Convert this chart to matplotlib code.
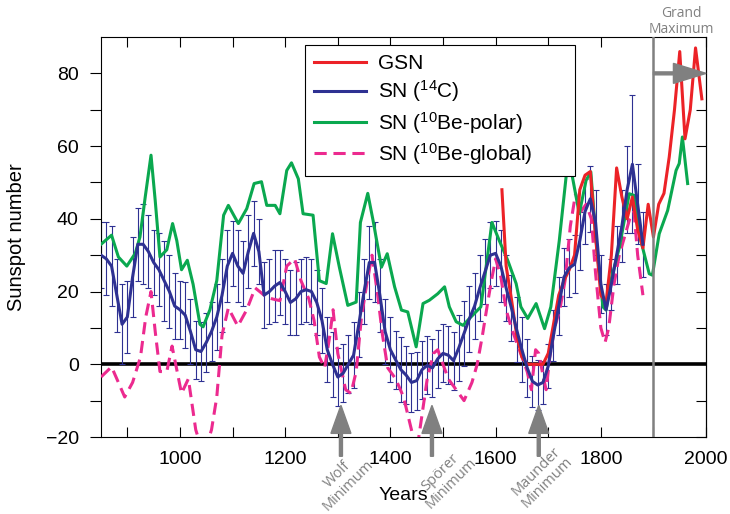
import numpy as np
import matplotlib.pyplot as plt
import matplotlib.transforms as mtransforms

plt.rcParams['font.family'] = ['Liberation Sans', 'DejaVu Sans']
plt.rcParams['mathtext.fontset'] = 'custom'
plt.rcParams['mathtext.rm'] = 'Liberation Sans'
plt.rcParams['mathtext.it'] = 'Liberation Sans:italic'

# SN from 14C, decadal, with error bars
c14_years = np.arange(850, 1890, 10)
c14_sn = [30, 29, 27, 19, 11, 13, 24, 33, 33, 31,
          28, 26, 23, 20, 16, 15, 13.5, 9, 4, 3.5,
          6, 9, 13, 19, 27, 30.5, 27, 25, 31, 36,
          31, 19, 20, 21.5, 22.5, 20, 17, 18, 20, 20.5,
          20, 17, 12, 4, 0, -3.5, -2.5, 0, 2.5, 11,
          20, 28, 28, 19, 9, 4, 1.2, -1.5, -3, -5,
          -4.5, -1.5, -0.3, -1, 1.5, 3, 2.5, 1, 4.5, 8.5,
          12.5, 16, 21, 25.5, 30, 30.5, 27, 21, 15.5, 9.5,
          4, -1, -4.7, -5.7, -5, -0.5, 8, 16, 24, 26.5,
          27.5, 34, 42, 45.5, 39, 22, 15, 22, 30, 38,
          48, 55, 44, 33]
c14_err = [9, 10, 11, 10, 11, 10, 11, 10, 11, 10,
           9, 10, 11, 10, 9, 8, 9, 9, 8, 8,
           8, 8, 9, 10, 10, 9, 10, 9, 10, 9,
           9, 9, 9, 10, 9, 9, 9, 10, 9, 9,
           9, 9, 9, 9, 9, 8, 8, 8, 9, 9,
           9, 10, 11, 10, 9, 9, 8, 9, 8, 8,
           8, 8, 8, 8, 8, 8, 8, 8, 9, 9,
           9, 9, 9, 9, 9, 9, 10, 9, 9, 9,
           9, 8, 7, 7, 6, 6, 7, 8, 8, 8,
           8, 8, 9, 9, 9, 8, 7, 7, 8, 10,
           12, 19, 11, 9]

# Group sunspot number
gsn_years = [1612, 1620, 1630, 1640, 1650, 1660, 1670, 1680, 1690, 1700,
             1710, 1720, 1730, 1740, 1750, 1760, 1770, 1780, 1790, 1800,
             1810, 1820, 1830, 1840, 1850, 1860, 1870, 1880, 1890, 1900,
             1910, 1920, 1930, 1940, 1950, 1960, 1970, 1980, 1992]
gsn_sn = [48, 27, 18, 8, 2, 0, 0, 0, 0, 3,
          11, 19, 23, 26, 30, 48, 52, 53, 35, 19,
          17, 30, 54, 46, 40, 46, 37, 32, 44, 35,
          44, 47, 57, 70, 86, 62, 70, 87, 73]

# SN from 10Be polar
polar_years = [850, 870, 883, 899, 915, 924, 934, 945, 953, 962,
               975, 986, 994, 1003, 1014, 1025, 1038, 1044, 1057, 1070,
               1083, 1092, 1111, 1127, 1141, 1155, 1165, 1181, 1190, 1203,
               1212, 1225, 1234, 1253, 1265, 1278, 1290, 1303, 1319, 1335,
               1343, 1357, 1367, 1383, 1394, 1408, 1421, 1433, 1449, 1462,
               1474, 1490, 1503, 1512, 1525, 1538, 1553, 1572, 1582, 1593,
               1607, 1623, 1639, 1648, 1661, 1677, 1693, 1705, 1721, 1738,
               1746, 1759, 1772, 1781, 1791, 1804, 1810, 1819, 1835, 1854,
               1864, 1876, 1892, 1898, 1911, 1927, 1943, 1949, 1955, 1965]
polar_sn = [33, 35.5, 29.5, 27, 30.5, 35, 46, 57.5, 45, 29.5,
            31.5, 38.7, 34, 26, 28.6, 22, 11, 10.3, 15, 23,
            41, 43.7, 38.7, 42.8, 49.7, 50.2, 43.7, 43.7, 41.4, 53.3,
            55.4, 51, 41.4, 41, 23, 22.2, 35.9, 26.7, 16.2, 17.1,
            39, 47, 39.6, 26.7, 30.4, 21.3, 14.9, 14.4, 4.8, 16.7,
            17.6, 19.4, 21.3, 15.8, 11.7, 10.7, 13, 15.8, 26.8, 39,
            34, 28.6, 22.2, 15.8, 12.6, 16.7, 9.8, 15.8, 34, 57,
            51.5, 41.4, 50.6, 52.9, 34, 15.8, 14.9, 23, 32, 46.9,
            46.4, 34, 24.9, 24.5, 35.9, 42.3, 53.3, 55.2, 62.5, 49.7]

# SN from 10Be global
global_years = [850, 870, 880, 895, 910, 925, 935, 945, 953, 962,
                975, 985, 1003, 1016, 1030, 1045, 1060, 1070, 1080, 1092,
                1110, 1127, 1143, 1160, 1175, 1190, 1203, 1218, 1230, 1245,
                1255, 1265, 1275, 1285, 1291, 1300, 1315, 1325, 1335, 1345,
                1355, 1365, 1375, 1385, 1395, 1410, 1425, 1440, 1450, 1458,
                1470, 1482, 1490, 1500, 1510, 1525, 1540, 1555, 1565, 1575,
                1585, 1592, 1600, 1610, 1620, 1630, 1640, 1650, 1660, 1668,
                1676, 1682, 1690, 1696, 1703, 1712, 1722, 1732, 1742, 1752,
                1762, 1772, 1782, 1790, 1800, 1808, 1815, 1825, 1835, 1845,
                1855, 1863, 1870, 1880]
global_sn = [-3.5, -0.7, -4, -9, -5, 2, 13, 20, 9, -2,
             -2, 5, -8, -4, -18, -25, -18, -9, 8, 15.5,
             10.5, 15, 21, 19, 18, 17.5, 27, 29, 23, 18,
             12, 2, -1, 8, 15, 3, -7, -8, -2, 13,
             22, 30, 20, 8, -1, -4, -9, -18, -24, -16,
             -4, 3, 4, 0, -4, -7, -10, -5, 0, 8,
             17, 23, 29, 24, 15, 10, 6, 2, -2, -7,
             4, 3, -3, -7, 2, 10, 15, 23, 38, 47,
             42, 44, 40, 25, 10, 6, 10, 22, 30, 35,
             40, 42, 30, 19]

minima_years = [1306, 1479, 1682]
minima_names = ['Wolf\nMinimum', 'Spörer\nMinimum', 'Maunder\nMinimum']

red = '#ec2227'
blue = '#2e3192'
green = '#0aa84f'
pink = '#ec2a8f'
grey = '#808080'

fig = plt.figure(figsize=(7.3, 5.14), dpi=100)
ax = fig.add_axes([0.1384, 0.1498, 0.8288, 0.7782])

ax.axhline(0, color='black', lw=2.6, zorder=2)
ax.errorbar(c14_years, c14_sn, yerr=c14_err, fmt='none', ecolor=blue,
            elinewidth=0.8, capsize=2, capthick=0.8, zorder=2.5)
l_glob, = ax.plot(global_years, global_sn, color=pink, lw=2.2,
                  dashes=(4, 2.2), zorder=3)
l_pol, = ax.plot(polar_years, polar_sn, color=green, lw=2.2, zorder=3.2)
l_gsn, = ax.plot(gsn_years, gsn_sn, color=red, lw=2.2, zorder=3.4)
l_c14, = ax.plot(c14_years, c14_sn, color=blue, lw=2.2, zorder=3.6)

ax.axvline(1900, color=grey, lw=1.8, zorder=6)
ax.arrow(1900, 80, 100, 0, width=0.8, head_width=5.5, head_length=62,
         length_includes_head=True, color=grey, zorder=6, clip_on=False)

for yr in minima_years:
    ax.arrow(yr, -25.3, 0, 14.0, width=5.7, head_width=38, head_length=7.7,
             length_includes_head=True, color=grey, zorder=6, clip_on=False)

ax.set_xlim(850, 2000)
ax.set_ylim(-20, 90)

ax.set_xticks(np.arange(1000, 2001, 200))
ax.set_xticks(np.arange(900, 2000, 200), minor=True)
ax.tick_params(axis='x', which='both', direction='in', top=True,
               length=7.5, width=0.8, labelsize=14, pad=10)
ax.set_yticks(np.arange(-20, 81, 20))
ax.set_yticks(np.arange(-10, 81, 20), minor=True)
ax.tick_params(axis='y', which='both', direction='out', length=8,
               width=0.8, labelsize=14, pad=8)
secax = ax.secondary_yaxis('right')
secax.set_yticks(np.arange(-20, 81, 10))
secax.tick_params(direction='in', length=7.5, width=0.8, labelright=False)
for sp in list(ax.spines.values()) + [secax.spines['right']]:
    sp.set_linewidth(0.8)

ax.set_xlabel('Years', fontsize=14, labelpad=14)
ax.set_ylabel('Sunspot number', fontsize=14.5, labelpad=14)

leg = ax.legend([l_gsn, l_c14, l_pol, l_glob],
                ['GSN', 'SN ($^{14}$C)', 'SN ($^{10}$Be-polar)', 'SN ($^{10}$Be-global)'],
                loc='upper left', bbox_to_anchor=(0.337, 0.6625, 0.446, 0.3175),
                mode='expand', fontsize=15, fancybox=False, edgecolor='black',
                framealpha=1, handlelength=2.5, handletextpad=0.55,
                labelspacing=0.25, borderpad=0.45, borderaxespad=0)
leg.get_frame().set_linewidth(0.8)
leg.set_zorder(10)

trans = mtransforms.blended_transform_factory(ax.transData, fig.transFigure)
ax.text(1954, 0.959, 'Grand\nMaximum', transform=trans, ha='center', va='center',
        fontsize=10, color=grey, family='Open Sans', linespacing=1.1)
label_x = [1309, 1506, 1687]
label_y = [0.067, 0.071, 0.073]
for lx, ly, name in zip(label_x, label_y, minima_names):
    ax.text(lx, ly, name, transform=trans, rotation=45, ha='center', va='center',
            multialignment='center', fontsize=10.5, color=grey, family='Open Sans',
            linespacing=1.05)

fig.savefig('out.png', dpi=100)
